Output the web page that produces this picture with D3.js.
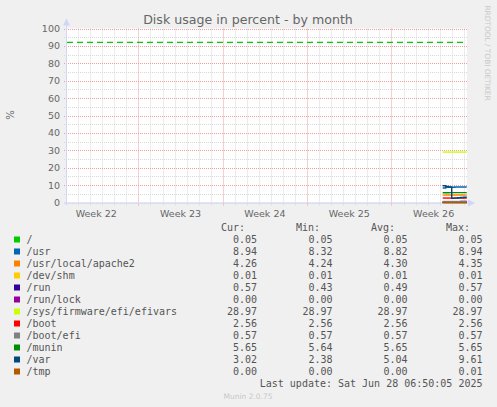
<!DOCTYPE html>
<html>
<head>
<meta charset="utf-8">
<script src="https://cdn.jsdelivr.net/npm/d3@7"></script>
<style>
  body { margin: 0; background: #F0F0F0; }
  text { font-family: "DejaVu Sans", sans-serif; }
  .mono { font-family: "DejaVu Sans Mono", monospace; }
</style>
</head>
<body>
<div id="chart"></div>
<script>
var svgWidth = 497;
var svgHeight = 407;

// plot box (rrdtool canvas)
var plot = { left: 67, right: 467, top: 28.5, bottom: 202.5 };

// ---- data ----
var title = "Disk usage in percent - by month";
var startTime = "2025-05-27T01:47:00";
var endTime = "2025-06-29T06:28:00";
var weekStarts = ["2025-05-26", "2025-06-02", "2025-06-09", "2025-06-16", "2025-06-23"];
var weekLabels = ["Week 22", "Week 23", "Week 24", "Week 25", "Week 26"];
var yTicks = [0, 10, 20, 30, 40, 50, 60, 70, 80, 90, 100];

var sampleTimes = ["2025-06-27T06:00", "2025-06-27T12:00", "2025-06-27T18:00", "2025-06-28T00:00",
                   "2025-06-28T06:00", "2025-06-28T12:00", "2025-06-28T18:00", "2025-06-29T00:00",
                   "2025-06-29T06:00"];

var names = ["/", "/usr", "/usr/local/apache2", "/dev/shm", "/run", "/run/lock",
             "/sys/firmware/efi/efivars", "/boot", "/boot/efi", "/munin", "/var", "/tmp"];
var colors = ["#00CC00", "#0066B3", "#FF8000", "#FFCC00", "#330099", "#990099",
              "#CCFF00", "#FF0000", "#808080", "#008F00", "#00487D", "#B35A00"];

var rootVals    = [0.05, 0.05, 0.05, 0.05, 0.05, 0.05, 0.05, 0.05, 0.05];
var usrVals     = [8.32, 8.75, 8.75, 8.80, 8.94, 8.94, 8.94, 8.94, 8.94];
var apacheVals  = [4.24, 4.35, 4.30, 4.30, 4.30, 4.30, 4.28, 4.26, 4.26];
var shmVals     = [0.01, 0.01, 0.01, 0.01, 0.01, 0.01, 0.01, 0.01, 0.01];
var runVals     = [0.43, 0.43, 0.45, 0.47, 0.50, 0.52, 0.55, 0.57, 0.57];
var runLockVals = [0, 0, 0, 0, 0, 0, 0, 0, 0];
var efiVarVals  = [28.97, 28.97, 28.97, 28.97, 28.97, 28.97, 28.97, 28.97, 28.97];
var bootVals    = [2.56, 2.56, 2.56, 2.56, 2.56, 2.56, 2.56, 2.56, 2.56];
var bootEfiVals = [0.57, 0.57, 0.57, 0.57, 0.57, 0.57, 0.57, 0.57, 0.57];
var muninVals   = [5.64, 5.64, 5.65, 5.65, 5.65, 5.65, 5.65, 5.65, 5.65];
var varVals     = [9.61, 9.20, 8.90, 2.38, 2.50, 2.70, 2.85, 3.02, 3.02];
var tmpVals     = [0, 0, 0.01, 0, 0, 0, 0, 0, 0];

var warningLevel = 92;   // warning rule for "/"

var curCol = ["0.05", "8.94", "4.26", "0.01", "0.57", "0.00", "28.97", "2.56", "0.57", "5.65", "3.02", "0.00"];
var minCol = ["0.05", "8.32", "4.24", "0.01", "0.43", "0.00", "28.97", "2.56", "0.57", "5.64", "2.38", "0.00"];
var avgCol = ["0.05", "8.82", "4.30", "0.01", "0.49", "0.00", "28.97", "2.56", "0.57", "5.65", "5.04", "0.00"];
var maxCol = ["0.05", "8.94", "4.35", "0.01", "0.57", "0.00", "28.97", "2.56", "0.57", "5.65", "9.61", "0.01"];

var lastUpdate = "Last update: Sat Jun 28 06:50:05 2025";

var seriesVals = [rootVals, usrVals, apacheVals, shmVals, runVals, runLockVals,
                  efiVarVals, bootVals, bootEfiVals, muninVals, varVals, tmpVals];

// ---- svg ----
var svg = d3.select("#chart")
    .append("svg")
    .attr("width", svgWidth)
    .attr("height", svgHeight);

svg.append("rect")
    .attr("width", svgWidth)
    .attr("height", svgHeight)
    .attr("fill", "#F0F0F0");

var parse = function(s) { return new Date(s); };

var x = d3.scaleTime()
    .domain([parse(startTime), parse(endTime)])
    .range([plot.left, plot.right]);

var y = d3.scaleLinear()
    .domain([0, 100])
    .range([plot.bottom, plot.top]);

// canvas
svg.append("rect")
    .attr("x", plot.left)
    .attr("y", plot.top)
    .attr("width", plot.right - plot.left)
    .attr("height", plot.bottom - plot.top)
    .attr("fill", "#FFFFFF");

// minor grid: each day, each 5 %
var grid = svg.append("g");
var days = d3.timeDay.range(parse(startTime), parse(endTime));
var majorDays = weekStarts.map(parse).map(d => +d);

grid.selectAll(".vminor")
    .data(days.filter(d => majorDays.indexOf(+d) < 0))
    .enter().append("line")
    .attr("x1", d => Math.round(x(d)) + 0.5)
    .attr("x2", d => Math.round(x(d)) + 0.5)
    .attr("y1", plot.top)
    .attr("y2", plot.bottom + 3)
    .attr("stroke", "#D8D8D8")
    .attr("stroke-dasharray", "1,1");

var minorY = d3.range(5, 100, 10);
grid.selectAll(".hminor")
    .data(minorY)
    .enter().append("line")
    .attr("x1", plot.left - 3)
    .attr("x2", plot.right)
    .attr("y1", d => Math.round(y(d)) + 0.5)
    .attr("y2", d => Math.round(y(d)) + 0.5)
    .attr("stroke", "#D8D8D8")
    .attr("stroke-dasharray", "1,1");

// major grid
grid.selectAll(".vmajor")
    .data(weekStarts.map(parse).filter(d => x(d) > plot.left))
    .enter().append("line")
    .attr("x1", d => Math.round(x(d)) + 0.5)
    .attr("x2", d => Math.round(x(d)) + 0.5)
    .attr("y1", plot.top)
    .attr("y2", plot.bottom + 3)
    .attr("stroke", "#EE9E9E")
    .attr("stroke-dasharray", "1,1");

grid.selectAll(".hmajor")
    .data(yTicks)
    .enter().append("line")
    .attr("x1", plot.left - 3)
    .attr("x2", plot.right)
    .attr("y1", d => Math.round(y(d)) + 0.5)
    .attr("y2", d => Math.round(y(d)) + 0.5)
    .attr("stroke", d => d === 0 ? "#D8D8D8" : "#EE9E9E")
    .attr("stroke-dasharray", "1,1");

// axes (rrdtool style with arrows)
var axisColor = "#CFD6F8";
svg.append("line")
    .attr("x1", plot.left - 0.5).attr("x2", plot.left - 0.5)
    .attr("y1", plot.bottom + 3).attr("y2", plot.top - 4)
    .attr("stroke", axisColor);
svg.append("path")
    .attr("d", `M${plot.left - 4},${plot.top - 3} L${plot.left - 0.5},${plot.top - 10} L${plot.left + 3},${plot.top - 3} Z`)
    .attr("fill", axisColor);
svg.append("line")
    .attr("x1", plot.left - 3).attr("x2", plot.right + 3)
    .attr("y1", plot.bottom + 0.5).attr("y2", plot.bottom + 0.5)
    .attr("stroke", axisColor);
svg.append("path")
    .attr("d", `M${plot.right + 1},${plot.bottom - 3} L${plot.right + 8},${plot.bottom + 0.5} L${plot.right + 1},${plot.bottom + 4} Z`)
    .attr("fill", axisColor);

// y labels
svg.selectAll(".ylab")
    .data(yTicks)
    .enter().append("text")
    .attr("x", 60)
    .attr("y", d => y(d) + 3.5)
    .attr("text-anchor", "end")
    .attr("font-size", "9.5px")
    .attr("fill", "#666")
    .text(d => d);

// x labels, centred in each week
svg.selectAll(".xlab")
    .data(weekStarts)
    .enter().append("text")
    .attr("x", d => x(d3.timeHour.offset(parse(d), 84)))
    .attr("y", 216.5)
    .attr("text-anchor", "middle")
    .attr("font-size", "9.5px")
    .attr("fill", "#666")
    .text((d, i) => weekLabels[i]);

// warning rule
svg.append("line")
    .attr("x1", plot.left)
    .attr("x2", plot.right)
    .attr("y1", y(warningLevel))
    .attr("y2", y(warningLevel))
    .attr("stroke", colors[0])
    .attr("stroke-width", 1.3)
    .attr("stroke-dasharray", "6,4");

// series
var line = d3.line()
    .x(d => x(d.t))
    .y(d => y(d.v))
    .curve(d3.curveStepAfter);

var times = sampleTimes.map(parse);
seriesVals.forEach(function(vals, i) {
    var pts = vals.map((v, j) => ({ t: times[j], v: v }));
    svg.append("path")
        .datum(pts)
        .attr("d", line)
        .attr("fill", "none")
        .attr("stroke", colors[i])
        .attr("stroke-width", 1.4);
});

// title and side texts
svg.append("text")
    .attr("x", 248)
    .attr("y", 23.5)
    .attr("text-anchor", "middle")
    .attr("font-size", "12.6px")
    .attr("fill", "#666")
    .text(title);

svg.append("text")
    .attr("transform", "translate(14, 115) rotate(-90)")
    .attr("text-anchor", "middle")
    .attr("font-size", "10px")
    .attr("fill", "#666")
    .text("%");

svg.append("text")
    .attr("transform", "translate(485, 53) rotate(90)")
    .attr("text-anchor", "middle")
    .attr("font-size", "7.4px")
    .attr("fill", "#C8C8C8")
    .text("RRDTOOL / TOBI OETIKER");

// legend table
var legend = svg.append("g").attr("class", "mono");
var colRight = [257, 332.5, 407.5, 482.5];
var headRight = [245, 320, 395, 470];
var heads = ["Cur:", "Min:", "Avg:", "Max:"];
var cols = [curCol, minCol, avgCol, maxCol];

heads.forEach(function(h, c) {
    legend.append("text")
        .attr("class", "mono")
        .attr("x", headRight[c])
        .attr("y", 231)
        .attr("text-anchor", "end")
        .attr("font-size", "10px")
        .attr("fill", "#555")
        .text(h);
});

var rowY = d3.scaleLinear().domain([0, 1]).range([242.5, 254.5]);

var rows = legend.selectAll(".row")
    .data(names)
    .enter().append("g");

rows.append("rect")
    .attr("x", 14)
    .attr("y", (d, i) => rowY(i) - 6)
    .attr("width", 6)
    .attr("height", 6)
    .attr("fill", (d, i) => colors[i]);

rows.append("text")
    .attr("class", "mono")
    .attr("x", 26.5)
    .attr("y", (d, i) => rowY(i))
    .attr("font-size", "10px")
    .attr("fill", "#555")
    .text(d => d);

cols.forEach(function(col, c) {
    rows.append("text")
        .attr("class", "mono")
        .attr("x", colRight[c])
        .attr("y", (d, i) => rowY(i))
        .attr("text-anchor", "end")
        .attr("font-size", "10px")
        .attr("fill", "#555")
        .text((d, i) => col[i]);
});

legend.append("text")
    .attr("class", "mono")
    .attr("x", 482.5)
    .attr("y", 386.5)
    .attr("text-anchor", "end")
    .attr("font-size", "10px")
    .attr("fill", "#555")
    .text(lastUpdate);

svg.append("text")
    .attr("x", 248)
    .attr("y", 399)
    .attr("text-anchor", "middle")
    .attr("font-size", "7.5px")
    .attr("fill", "#C8C8C8")
    .text("Munin 2.0.75");
</script>
</body>
</html>
